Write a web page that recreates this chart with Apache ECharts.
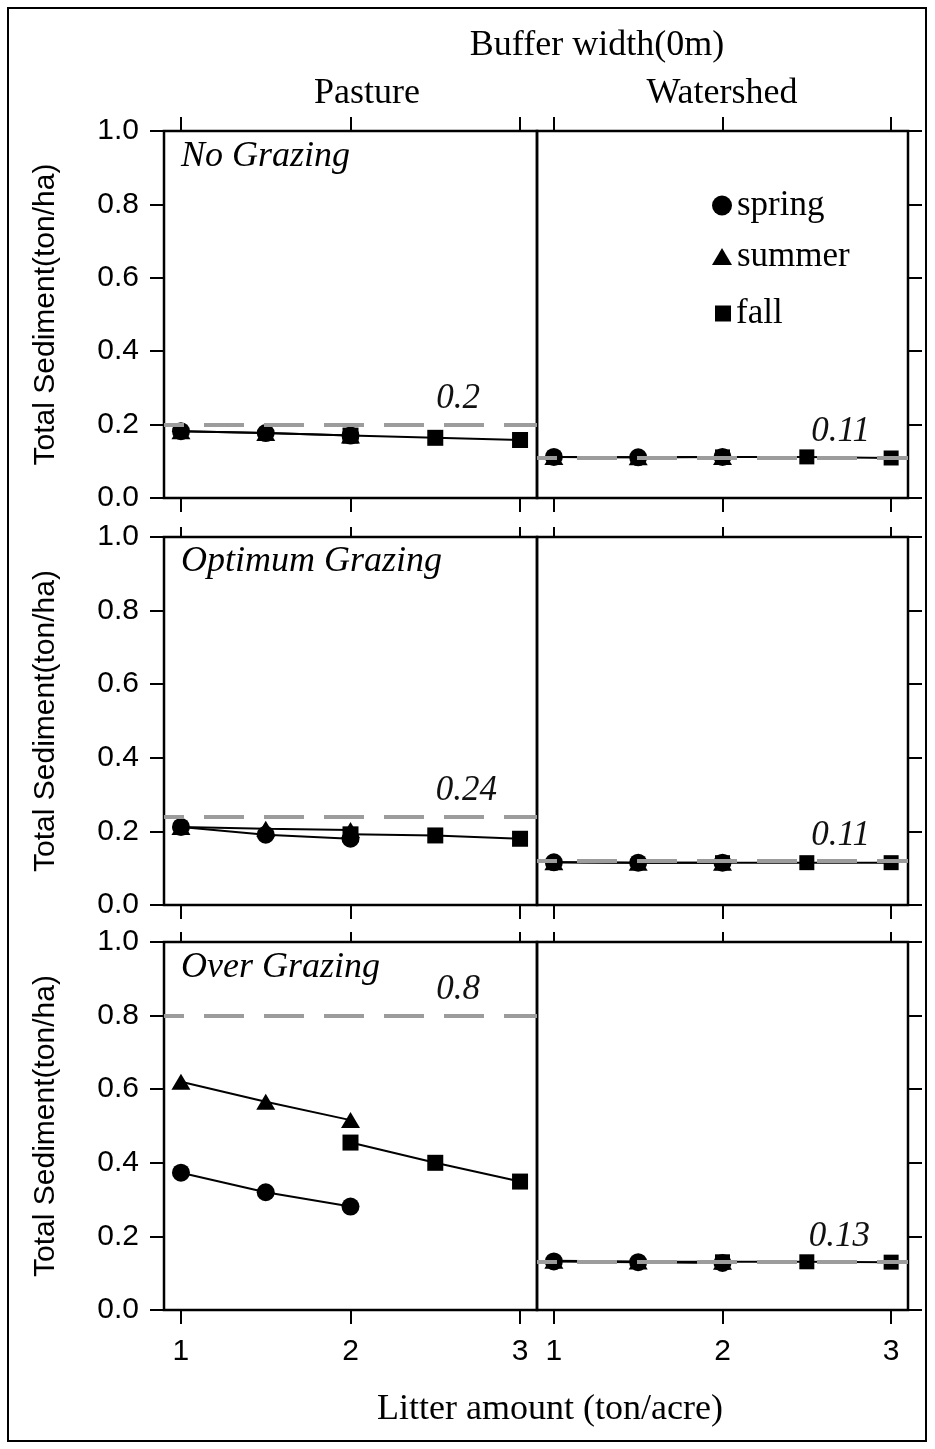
<!DOCTYPE html>
<html><head><meta charset="utf-8">
<script src="https://cdn.jsdelivr.net/npm/echarts@6/dist/echarts.min.js"></script>
<style>html,body{margin:0;padding:0;background:#fff}#c{width:935px;height:1449px}</style>
</head><body><div id="c"></div>
<script>
// ---- data ----
const xSpringSummer = [1, 1.5, 2];
const xFall = [2, 2.5, 3];
const xTickValues = [1, 2, 3];

// No Grazing
const noPastureSpring = [0.182, 0.177, 0.170];
const noPastureSummer = [0.182, 0.177, 0.170];
const noPastureFall = [0.170, 0.164, 0.158];
const noWatershedSpring = [0.112, 0.111, 0.112];
const noWatershedSummer = [0.112, 0.111, 0.112];
const noWatershedFall = [0.112, 0.112, 0.109];
// Optimum Grazing
const optPastureSpring = [0.212, 0.191, 0.180];
const optPastureSummer = [0.212, 0.207, 0.204];
const optPastureFall = [0.192, 0.189, 0.180];
const optWatershedSpring = [0.116, 0.115, 0.115];
const optWatershedSummer = [0.116, 0.115, 0.115];
const optWatershedFall = [0.115, 0.115, 0.115];
// Over Grazing
const overPastureSpring = [0.373, 0.320, 0.281];
const overPastureSummer = [0.620, 0.566, 0.516];
const overPastureFall = [0.455, 0.400, 0.349];
const overWatershedSpring = [0.132, 0.130, 0.128];
const overWatershedSummer = [0.134, 0.132, 0.131];
const overWatershedFall = [0.131, 0.131, 0.130];

// reference levels per panel (row-major: pasture, watershed)
const refValues = [0.2, 0.112, 0.24, 0.116, 0.8, 0.131];
const refLabels = ['0.2', '0.11', '0.24', '0.11', '0.8', '0.13'];
const rowTitles = ['No Grazing', 'Optimum Grazing', 'Over Grazing'];
const colTitles = ['Pasture', 'Watershed'];
const seasonNames = ['spring', 'summer', 'fall'];

// ---- layout ----
const rowTop = [131, 537, 942];
const rowH = [367, 368, 368];
const colLeft = [164, 537];
const colW = [373, 371];
const SERIF = 'Liberation Serif';
const SANS = 'Liberation Sans';

const panels = [
  [noPastureSpring, noPastureSummer, noPastureFall],
  [noWatershedSpring, noWatershedSummer, noWatershedFall],
  [optPastureSpring, optPastureSummer, optPastureFall],
  [optWatershedSpring, optWatershedSummer, optWatershedFall],
  [overPastureSpring, overPastureSummer, overPastureFall],
  [overWatershedSpring, overWatershedSummer, overWatershedFall]
];

const grid = [], xAxis = [], yAxis = [], series = [];
for (let g = 0; g < 6; g++) {
  const r = Math.floor(g / 2), c = g % 2;
  grid.push({left: colLeft[c], top: rowTop[r], width: colW[c], height: rowH[r],
    show: true, borderColor: '#000', borderWidth: 2.5, backgroundColor: 'transparent'});
  xAxis.push({type: 'value', gridIndex: g, position: 'bottom', min: 0.9, max: 3.1,
    axisLine: {show: false}, splitLine: {show: false},
    axisTick: {show: true, inside: false, length: 14, customValues: xTickValues, lineStyle: {color: '#000', width: 2}},
    axisLabel: {show: r === 2, customValues: xTickValues, margin: 27, color: '#000', fontFamily: SANS, fontSize: 30}
  });
  xAxis.push({type: 'value', gridIndex: g, position: 'top', min: 0.9, max: 3.1,
    axisLine: {show: false}, splitLine: {show: false},
    axisTick: {show: true, inside: false, length: r === 0 ? 14 : 10, customValues: xTickValues, lineStyle: {color: '#000', width: 2}},
    axisLabel: {show: false}
  });
  yAxis.push({type: 'value', gridIndex: g, position: c === 0 ? 'left' : 'right', min: 0, max: 1, interval: 0.2,
    axisLine: {show: false}, splitLine: {show: false},
    axisTick: {show: true, inside: false, length: 14, lineStyle: {color: '#000', width: 2}},
    axisLabel: {show: c === 0, margin: 25, color: '#000', fontFamily: SANS, fontSize: 30,
      formatter: v => v.toFixed(1)},
    name: c === 0 ? 'Total Sediment(ton/ha)' : '', nameLocation: 'middle', nameGap: 103,
    nameTextStyle: {fontFamily: SANS, fontSize: 30, color: '#000'}
  });
  const [sp, su, fa] = panels[g];
  const base = {type: 'line', xAxisIndex: 2 * g, yAxisIndex: g, animation: false, silent: true,
    lineStyle: {color: '#000', width: 2}, itemStyle: {color: '#000'}, color: '#000',
    emphasis: {disabled: true}, showSymbol: true};
  series.push(Object.assign({}, base, {name: 'fall', symbol: 'rect', symbolSize: c === 0 ? 16 : 15,
    data: xFall.map((x, i) => [x, fa[i]])}));
  series.push(Object.assign({}, base, {name: 'summer', symbol: 'triangle', symbolSize: [19, 16],
    data: xSpringSummer.map((x, i) => [x, su[i]])}));
  series.push(Object.assign({}, base, {name: 'spring', symbol: 'circle', symbolSize: 18,
    data: xSpringSummer.map((x, i) => [x, sp[i]]),
    markLine: {silent: true, symbol: ['none', 'none'], animation: false, z: 5,
      data: [{yAxis: refValues[g]}],
      lineStyle: {color: '#9c9c9c', width: 4, type: [40, 20], dashOffset: 20},
      label: {show: true, position: 'insideEndTop', formatter: refLabels[g],
        distance: [c === 0 ? (r === 1 ? 40 : 57) : 38, 8],
        fontFamily: SERIF, fontStyle: 'italic', fontSize: 35, color: '#111'},
      emphasis: {disabled: true}
    }}));
}

const legendCommon = {orient: 'horizontal', padding: 0, selectedMode: false,
  textStyle: {fontFamily: SERIF, fontSize: 35, color: '#000'}};
const legend = [
  Object.assign({}, legendCommon, {data: [{name: seasonNames[0], icon: 'circle'}], left: 712, top: 188, itemWidth: 20, itemHeight: 20}),
  Object.assign({}, legendCommon, {data: [{name: seasonNames[1], icon: 'triangle'}], left: 712, top: 239, itemWidth: 20, itemHeight: 17}),
  Object.assign({}, legendCommon, {data: [{name: seasonNames[2], icon: 'rect'}], left: 715, top: 296, itemWidth: 16, itemHeight: 16})
];

const txt = (text, x, y, align, size, italic) => ({type: 'text', x: x, y: y, silent: true,
  style: {text: text, fill: '#000', align: align, verticalAlign: 'middle',
    font: (italic ? 'italic ' : '') + size + 'px "' + SERIF + '"'}});

const graphic = [
  {type: 'rect', shape: {x: 8, y: 8, width: 918, height: 1433}, silent: true,
    style: {fill: 'none', stroke: '#000', lineWidth: 2}},
  txt('Buffer width(0m)', 597, 46, 'center', 36, false),
  txt(colTitles[0], 367, 94, 'center', 36, false),
  txt(colTitles[1], 722, 94, 'center', 36, false),
  txt(rowTitles[0], 181, 157, 'left', 36, true),
  txt(rowTitles[1], 181, 562, 'left', 36, true),
  txt(rowTitles[2], 181, 968, 'left', 36, true),
  txt('Litter amount (ton/acre)', 550, 1410, 'center', 36, false)
];

const chart = echarts.init(document.getElementById('c'));
chart.setOption({animation: false, backgroundColor: '#fff', grid, xAxis, yAxis, series, legend, graphic});
</script></body></html>
